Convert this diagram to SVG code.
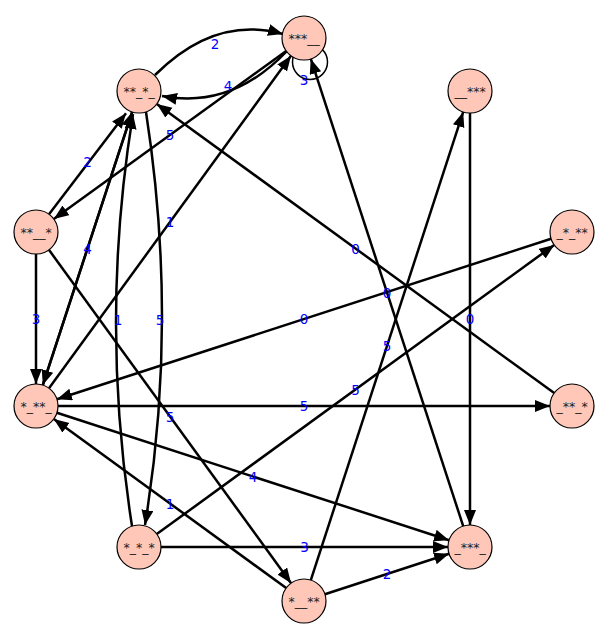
<svg xmlns="http://www.w3.org/2000/svg" width="609" height="640" viewBox="0 0 609 640">
<style>
.e{fill:none;stroke:#000;stroke-width:2.5;marker-end:url(#ah)}
.lb{font-family:"DejaVu Sans",sans-serif;font-size:13.5px;fill:#0000ff;text-anchor:middle;dominant-baseline:central}
.n circle{fill:#fec7b8;stroke:#000;stroke-width:1.2}
.n text{font-family:"DejaVu Sans",sans-serif;font-size:12.5px;fill:#222;text-anchor:middle;dominant-baseline:central}
</style>
<defs>
<marker id="ah" markerUnits="userSpaceOnUse" markerWidth="18" markerHeight="14" refX="15" refY="6" orient="auto">
<path d="M0,0 L15,6 L0,12 z" fill="#000"/>
</marker>
</defs>
<rect width="609" height="640" fill="#fff"/>
<g id="edges">
<circle cx="310" cy="62" r="17.5" fill="none" stroke="#000" stroke-width="1.5"/>
<path class="e" d="M155,75 Q215,15 283,34"/>
<path class="e" d="M287,51 Q231.5,109.5 162,96"/>
<path class="e" d="M286.2,50.9 L53.8,219.1"/>
<path class="e" d="M49,388.2 L291,55.8"/>
<path class="e" d="M49,214.2 L126,113.2"/>
<path class="e" d="M132.2,111.9 L42.8,385.1"/>
<path class="e" d="M42.8,385.1 L132.2,111.9"/>
<path class="e" d="M146,112 Q178.5,321.5 145,525"/>
<path class="e" d="M132,526 Q99.5,320 133,114"/>
<path class="e" d="M36,254 L36,384"/>
<path class="e" d="M48.9,249.8 L291.1,583.2"/>
<path class="e" d="M551.1,238.8 L56.9,399.2"/>
<path class="e" d="M554.2,393.1 L156.8,103.9"/>
<path class="e" d="M58,406 L550,406"/>
<path class="e" d="M56.9,412.8 L449.1,540.2"/>
<path class="e" d="M286.2,588.1 L53.8,418.9"/>
<path class="e" d="M156.8,534.1 L554.2,244.9"/>
<path class="e" d="M161,547 L448,547"/>
<path class="e" d="M324.9,594.2 L449.1,553.8"/>
<path class="e" d="M310.8,580.1 L463.2,111.9"/>
<path class="e" d="M463.2,526.1 L310.8,58.9"/>
<path class="e" d="M470,113 L470,525"/>
</g>
<g id="labels">
<text class="lb" x="215" y="44">2</text>
<text class="lb" x="228" y="86">4</text>
<text class="lb" x="304" y="80">3</text>
<text class="lb" x="170" y="135">5</text>
<text class="lb" x="170" y="222">1</text>
<text class="lb" x="87.5" y="161.5">2</text>
<text class="lb" x="87.5" y="249">4</text>
<text class="lb" x="36" y="319">3</text>
<text class="lb" x="170" y="416.5">5</text>
<text class="lb" x="304" y="319">0</text>
<text class="lb" x="355.5" y="248.5">0</text>
<text class="lb" x="304" y="406">5</text>
<text class="lb" x="253" y="476.5">4</text>
<text class="lb" x="170" y="504">1</text>
<text class="lb" x="355.5" y="389.5">5</text>
<text class="lb" x="304.5" y="547">3</text>
<text class="lb" x="387" y="574">2</text>
<text class="lb" x="387" y="346">5</text>
<text class="lb" x="387" y="292.5">0</text>
<text class="lb" x="470" y="319">0</text>
<text class="lb" x="118" y="320">1</text>
<text class="lb" x="160" y="320">5</text>
</g>
<g id="nA" class="n"><circle cx="304" cy="38" r="22"/><text x="304" y="38">***__</text></g>
<g id="nB" class="n"><circle cx="139" cy="91" r="22"/><text x="139" y="91">**_*_</text></g>
<g id="nC" class="n"><circle cx="470" cy="91" r="22"/><text x="470" y="91">__***</text></g>
<g id="nD" class="n"><circle cx="36" cy="232" r="22"/><text x="36" y="232">**__*</text></g>
<g id="nE" class="n"><circle cx="572" cy="232" r="22"/><text x="572" y="232">_*_**</text></g>
<g id="nF" class="n"><circle cx="36" cy="406" r="22"/><text x="36" y="406">*_**_</text></g>
<g id="nG" class="n"><circle cx="572" cy="406" r="22"/><text x="572" y="406">_**_*</text></g>
<g id="nH" class="n"><circle cx="139" cy="547" r="22"/><text x="139" y="547">*_*_*</text></g>
<g id="nI" class="n"><circle cx="304" cy="601" r="22"/><text x="304" y="601">*__**</text></g>
<g id="nJ" class="n"><circle cx="470" cy="547" r="22"/><text x="470" y="547">_***_</text></g>
</svg>
